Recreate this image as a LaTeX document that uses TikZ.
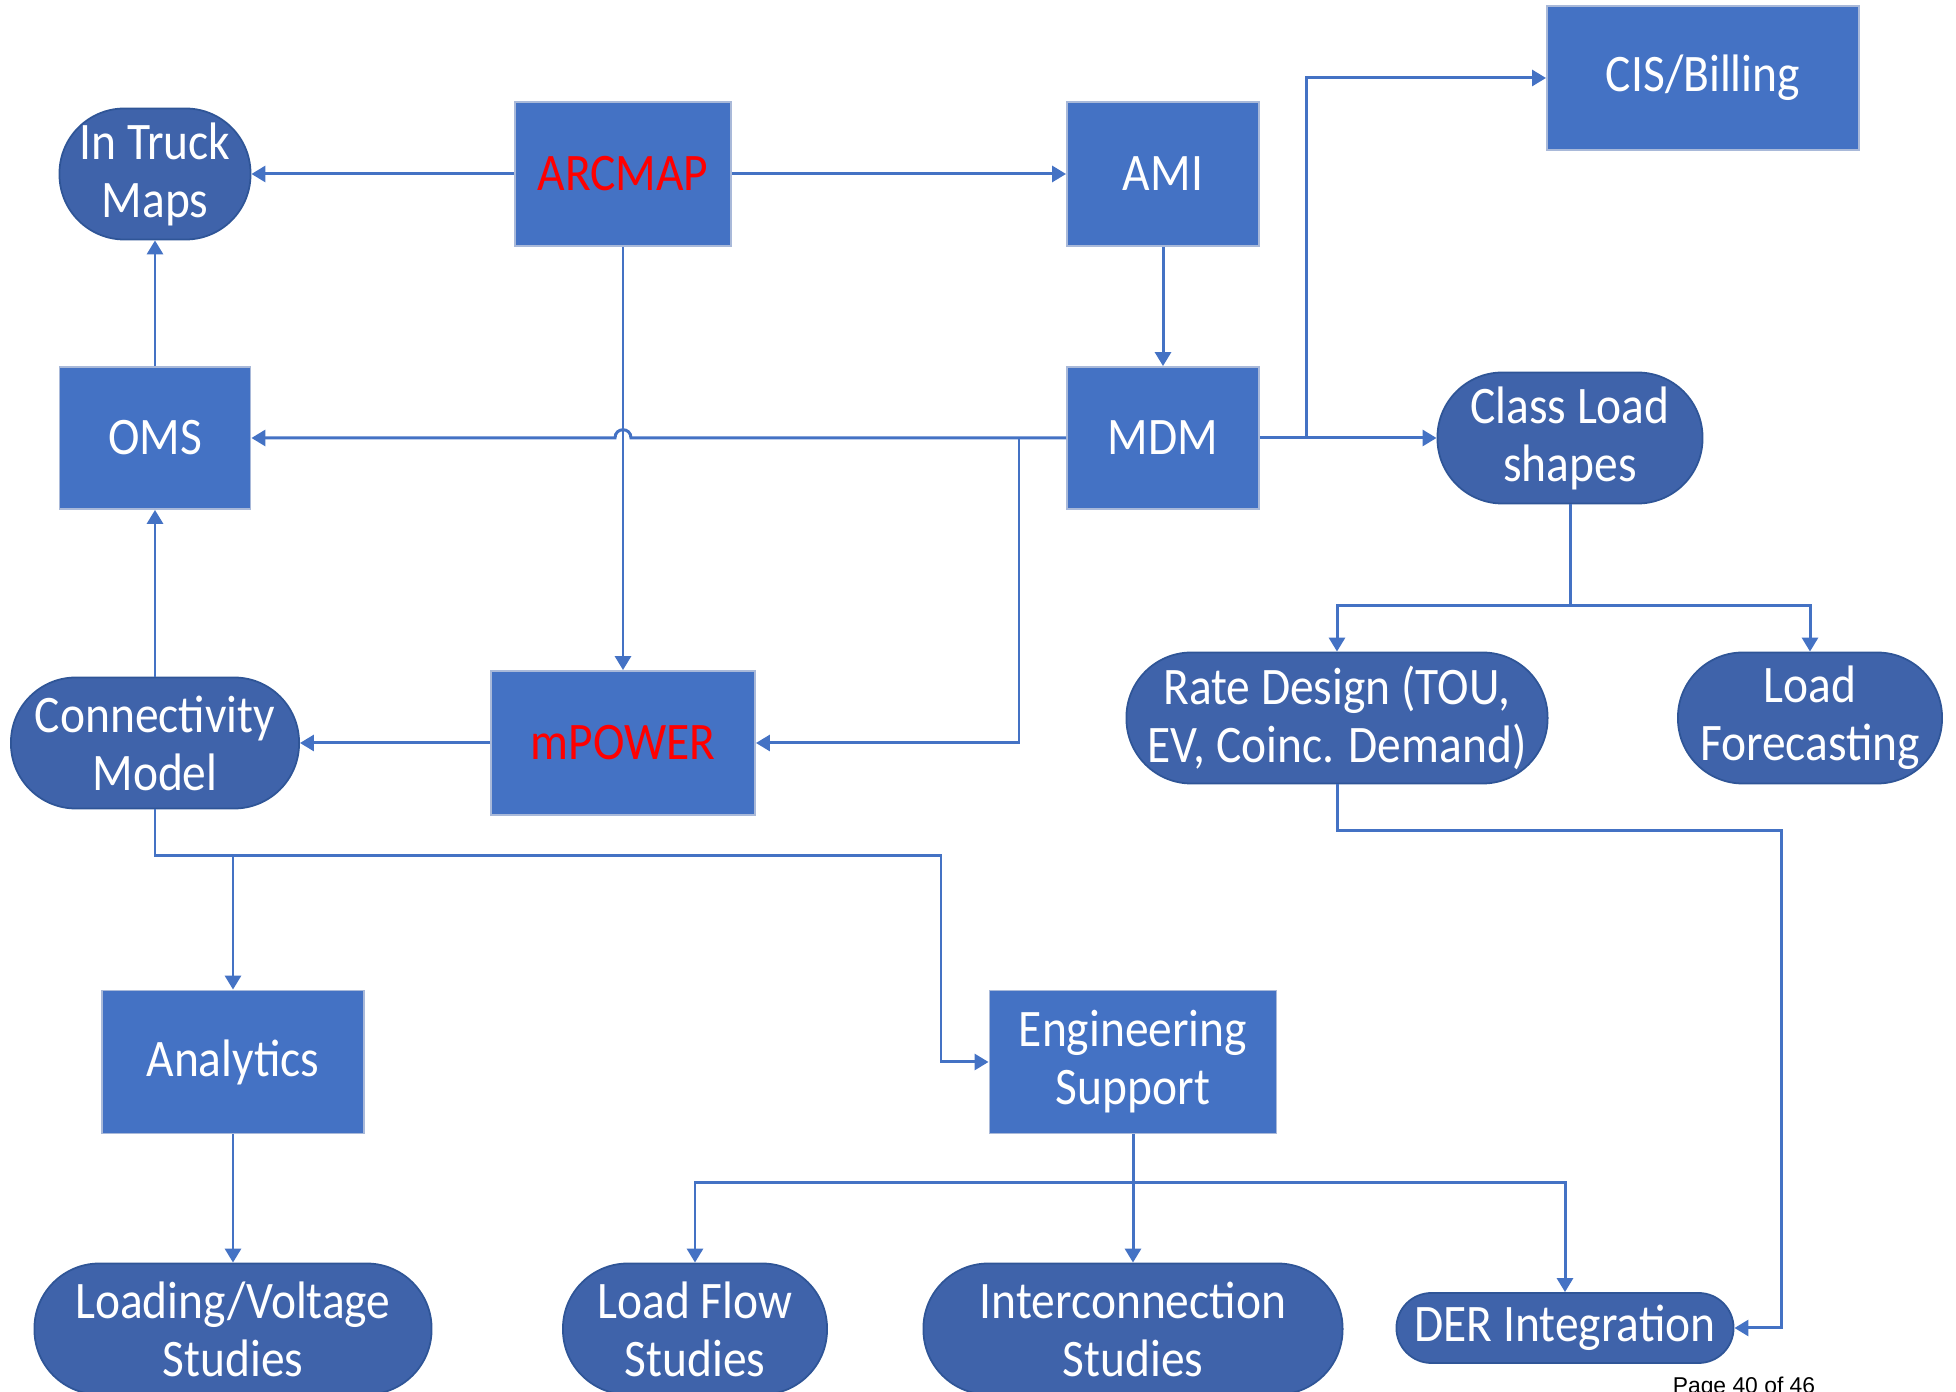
\documentclass[tikz,border=0pt]{standalone}
\usepackage{fontspec}
\setmainfont[FakeStretch=0.9]{Carlito}
\newfontfamily\pagefont{Liberation Sans}
\usetikzlibrary{arrows.meta}

\definecolor{officeblue}{HTML}{4472C4}
\definecolor{termblue}{HTML}{3F63AA}
\definecolor{termedge}{HTML}{2F5597}
\definecolor{boxedge}{HTML}{A9B9D9}

\tikzset{
  box/.style={rectangle, draw=boxedge, line width=0.5pt, fill=officeblue, text=white,
    align=center, font=\fontsize{15}{16.5}\selectfont},
  term/.style={rectangle, rounded corners=0.65cm, draw=termedge, line width=0.5pt,
    fill=termblue, text=white, align=center, font=\fontsize{15}{16.5}\selectfont},
  link/.style={draw=officeblue, line width=0.85pt, -{Triangle[length=0.14cm,width=0.16cm]}},
  wire/.style={draw=officeblue, line width=0.85pt},
}

\begin{document}
\begin{tikzpicture}[x=0.01cm, y=-0.01cm]
\useasboundingbox (0,0) rectangle (1956,1392);

% Sources
\node[box, minimum width=2.16cm, minimum height=1.44cm, text=red] (arcmap) at (623,174) {ARCMAP};
\node[box, minimum width=1.92cm, minimum height=1.44cm] (ami) at (1163,174) {AMI};
\node[box, minimum width=3.12cm, minimum height=1.44cm] (cis) at (1703,78) {CIS/Billing};
\node[term, minimum width=1.91cm, minimum height=1.31cm] (itm) at (155,174) {In Truck\\Maps};

% Middle row
\node[box, minimum width=1.91cm, minimum height=1.42cm] (oms) at (155,438) {OMS};
\node[box, minimum width=1.92cm, minimum height=1.42cm] (mdm) at (1163,438) {MDM};
\node[term, minimum width=2.65cm, minimum height=1.31cm] (cls) at (1570,438) {Class Load\\shapes};

\node[term, minimum width=2.88cm, minimum height=1.31cm] (cm) at (155,743) {Connectivity\\Model};
\node[box, minimum width=2.64cm, minimum height=1.44cm, text=red] (mp) at (623,743) {mPOWER};
\node[term, minimum width=4.21cm, minimum height=1.31cm] (rd) at (1337,718) {Rate Design (TOU,\\EV, Coinc. Demand)};
\node[term, minimum width=2.64cm, minimum height=1.31cm] (lf) at (1810,718) {Load\\Forecasting};

% Lower rows
\node[box, minimum width=2.62cm, minimum height=1.43cm] (an) at (233,1062) {Analytics};
\node[box, minimum width=2.87cm, minimum height=1.43cm] (es) at (1133,1062) {Engineering\\Support};

\node[term, minimum width=3.97cm, minimum height=1.31cm] (lv) at (233,1329) {Loading/Voltage\\Studies};
\node[term, minimum width=2.64cm, minimum height=1.31cm] (lfs) at (695,1329) {Load Flow\\Studies};
\node[term, minimum width=4.19cm, minimum height=1.31cm] (is) at (1133,1329) {Interconnection\\Studies};
\node[term, rounded corners=0.35cm, minimum width=3.37cm, minimum height=0.70cm] (der) at (1565,1328) {DER Integration};

\node[anchor=north, inner sep=0pt, font=\pagefont\fontsize{6.5}{7}\selectfont] (page) at (1744,1376) {Page 40 of 46};

% Bend points
\coordinate (hopE) at (631,438);
\coordinate (hopW) at (615,438);
\coordinate (tap) at (1019,438);
\coordinate (cisup) at (1306,438);
\coordinate (cmbus) at (155,856);
\coordinate (esbend) at (941,856);
\coordinate (esbus) at (1133,1183);
\coordinate (clsbus) at (1570,606);
\coordinate (derbend) at (1781,831);

% Connectors
\draw[link] (arcmap.west) -- (itm.east);
\draw[link] (arcmap.east) -- (ami.west);
\draw[link] (arcmap.south) -- (mp.north);
\draw[link] (ami.south) -- (mdm.north);
\draw[link] (mdm.west) -- (hopE) .. controls (631,427) and (615,427) .. (hopW) -- (oms.east);
\draw[link] (tap) |- (mp.east);
\draw[link] (mdm.east) -- (cls.west);
\draw[link] (cisup) |- (cis.west);
\draw[link] (oms.north) -- (itm.south);
\draw[link] (cm.north) -- (oms.south);
\draw[link] (mp.west) -- (cm.east);
\draw[link] (cm.south) -- (cmbus) -- (esbend) |- (es.west);
\draw[link] (an.north |- cmbus) -- (an.north);
\draw[link] (an.south) -- (lv.north);
\draw[link] (es.south) -- (is.north);
\draw[link] (esbus) -| (lfs.north);
\draw[link] (esbus) -| (der.north);
\draw[wire] (cls.south) -- (clsbus);
\draw[link] (clsbus) -| (rd.north);
\draw[link] (clsbus) -| (lf.north);
\draw[link] (rd.south) |- (derbend) |- (der.east);
\end{tikzpicture}
\end{document}
